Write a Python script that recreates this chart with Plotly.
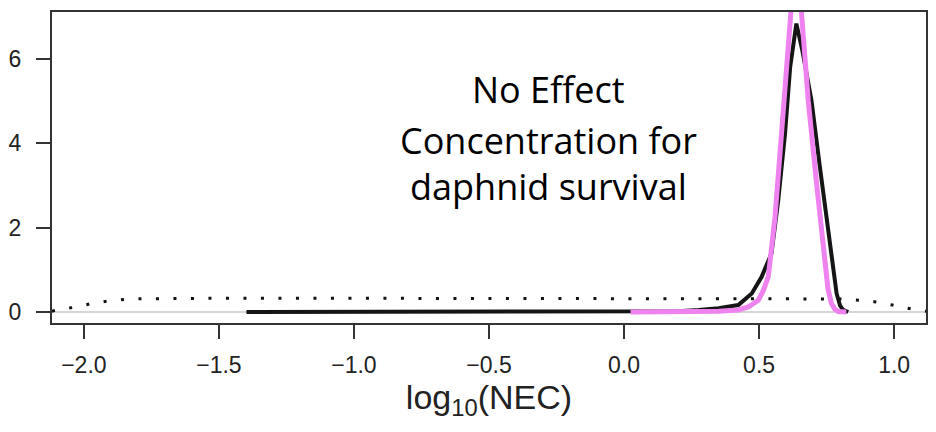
import plotly.graph_objects as go

# Prior density (dotted)
prior_x = [-2.118, -2.10, -2.037, -1.974, -1.911, -1.849, -1.782, -1.70, -1.5, -1.0, -0.5, 0.0, 0.5, 0.73, 0.80, 0.859, 0.926, 0.989, 1.051, 1.118]
prior_y = [0.02, 0.05, 0.11, 0.197, 0.26, 0.30, 0.315, 0.322, 0.325, 0.325, 0.325, 0.325, 0.325, 0.325, 0.31, 0.285, 0.245, 0.17, 0.087, 0.02]

# Posterior density (black)
post_x = [-1.398, -1.0, -0.5, 0.0, 0.2, 0.276, 0.35, 0.423, 0.473, 0.509, 0.546, 0.571, 0.596, 0.615, 0.63, 0.638, 0.66, 0.694, 0.725, 0.756, 0.775, 0.787, 0.80, 0.811, 0.83]
post_y = [0.0, 0.0, 0.0, 0.0, 0.02, 0.05, 0.09, 0.165, 0.44, 0.83, 1.39, 2.65, 4.22, 5.8, 6.6, 6.83, 6.2, 5.01, 3.44, 1.86, 0.9, 0.44, 0.15, 0.05, 0.0]

# Fitted density (violet)
fit_x = [0.024, 0.15, 0.276, 0.35, 0.423, 0.46, 0.497, 0.515, 0.534, 0.559, 0.583, 0.60, 0.612, 0.625, 0.635, 0.645, 0.657, 0.682, 0.713, 0.743, 0.755, 0.768, 0.78, 0.793, 0.823]
fit_y = [0.0, 0.003, 0.01, 0.02, 0.05, 0.12, 0.28, 0.5, 0.83, 2.25, 4.22, 5.9, 7.09, 7.7, 7.9, 7.7, 7.09, 5.01, 3.04, 1.07, 0.55, 0.2, 0.07, 0.01, 0.0]

x_ticks = [-2.0, -1.5, -1.0, -0.5, 0.0, 0.5, 1.0]
x_tick_labels = ["\u22122.0", "\u22121.5", "\u22121.0", "\u22120.5", "0.0", "0.5", "1.0"]
y_ticks = [0, 2, 4, 6]
note_lines = ["No Effect", "Concentration for", "daphnid survival"]
x_title = "log<sub>10</sub>(NEC)"

fig = go.Figure()
fig.add_trace(go.Scatter(x=[-2.118, 1.118], y=[0, 0], mode="lines",
                         line=dict(color="#c8c8c8", width=1.5), hoverinfo="skip"))
fig.add_trace(go.Scatter(x=prior_x, y=prior_y, mode="lines",
                         line=dict(color="#111111", width=3, dash="3px,14.5px")))
fig.add_trace(go.Scatter(x=post_x, y=post_y, mode="lines",
                         line=dict(color="#151515", width=4)))
fig.add_trace(go.Scatter(x=fit_x, y=fit_y, mode="lines",
                         line=dict(color="#EE82EE", width=5)))

note_y = [0.752, 0.588, 0.44]
note_x = (550 - 52) / (928 - 52)
for txt, yy in zip(note_lines, note_y):
    fig.add_annotation(text=txt, x=note_x, xref="paper", y=yy, yref="paper",
                       showarrow=False, font=dict(family="Open Sans", size=36, color="#000000"),
                       xanchor="center", yanchor="middle")

fig.update_layout(
    width=936, height=432,
    margin=dict(l=52, r=8, t=12, b=109),
    plot_bgcolor="white", paper_bgcolor="white",
    showlegend=False,
    font=dict(family="Liberation Sans", color="#222222"),
)
fig.update_xaxes(range=[-2.118, 1.118], tickvals=x_ticks, ticktext=x_tick_labels,
                 showgrid=False, zeroline=False, showline=True, mirror=True,
                 linecolor="#333333", linewidth=2, ticks="outside", ticklen=14,
                 tickwidth=2, tickcolor="#333333", tickfont=dict(size=23),
                 ticklabelstandoff=6,
                 title=dict(text=x_title, font=dict(size=34), standoff=2))
fig.update_yaxes(range=[-0.26, 7.106], tickvals=y_ticks,
                 showgrid=False, zeroline=False, showline=True, mirror=True,
                 linecolor="#333333", linewidth=2, ticks="outside", ticklen=14,
                 tickwidth=2, tickcolor="#333333", tickfont=dict(size=23),
                 ticklabelstandoff=10)

fig.write_html("out.html")
